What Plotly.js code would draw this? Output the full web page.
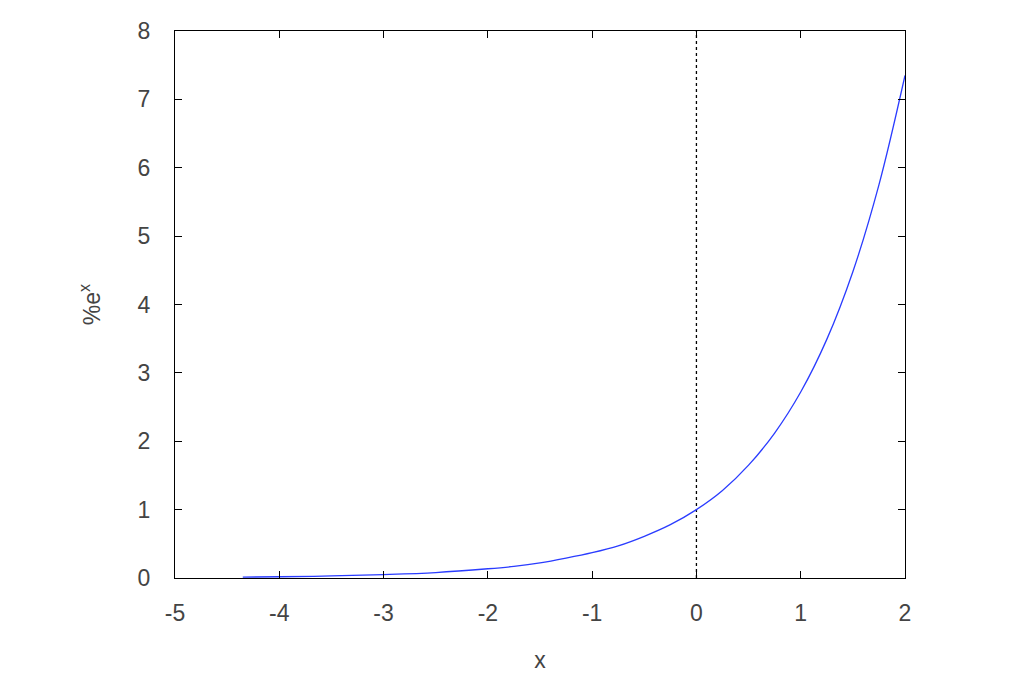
<!DOCTYPE html>
<html>
<head>
<meta charset="utf-8">
<script src="https://cdn.plot.ly/plotly-3.0.1.min.js"></script>
<style>html,body{margin:0;padding:0;background:#fff;}#chart{width:1024px;height:681px;}</style>
</head>
<body>
<div id="chart"></div>
<script>
// values
var xValues = [-4.35, -4.0, -3.5, -3.0, -2.5, -2.0, -1.75, -1.5, -1.25, -1.0, -0.75, -0.5, -0.25, 0.0, 0.25, 0.5, 0.75, 1.0, 1.25, 1.5, 1.75, 2.0];
var yValues = [0.013, 0.018, 0.03, 0.05, 0.08, 0.135, 0.17, 0.22, 0.29, 0.37, 0.47, 0.61, 0.78, 1.0, 1.28, 1.65, 2.12, 2.72, 3.49, 4.48, 5.75, 7.35];
var zeroLineX = [0, 0];
var zeroLineY = [0, 8];
var xTicks = [-5, -4, -3, -2, -1, 0, 1, 2];
var yTicks = [0, 1, 2, 3, 4, 5, 6, 7, 8];

var font = {family: 'Liberation Sans, Arial, sans-serif', size: 23, color: '#444'};

var traces = [
  {x: zeroLineX, y: zeroLineY, mode: 'lines', line: {color: '#000', width: 1.3, dash: 'dot'}, hoverinfo: 'skip', showlegend: false},
  {x: xValues, y: yValues, mode: 'lines', line: {color: '#2a3cff', width: 1.3, shape: 'spline'}, showlegend: false}
];

var axisCommon = {
  showgrid: false, zeroline: false,
  showline: true, linecolor: '#000', linewidth: 1, mirror: 'ticks',
  ticks: 'inside', ticklen: 7, tickcolor: '#000', tickwidth: 1,
  tickfont: font
};

var layout = {
  width: 1024, height: 681,
  margin: {l: 175, r: 119, t: 31, b: 103},
  paper_bgcolor: '#fff', plot_bgcolor: '#fff',
  font: font,
  xaxis: Object.assign({}, axisCommon, {
    range: [-5, 2], tickvals: xTicks, ticktext: xTicks.map(String),
    ticklabelstandoff: 14,
    title: {text: 'x', font: font, standoff: 27}
  }),
  yaxis: Object.assign({}, axisCommon, {
    range: [0, 8], tickvals: yTicks, ticktext: yTicks.map(String),
    ticklabelstandoff: 19,
    title: {text: '%e<sup>x</sup>', font: font, standoff: 30}
  })
};

Plotly.newPlot('chart', traces, layout, {displayModeBar: false, staticPlot: true});
</script>
</body>
</html>
